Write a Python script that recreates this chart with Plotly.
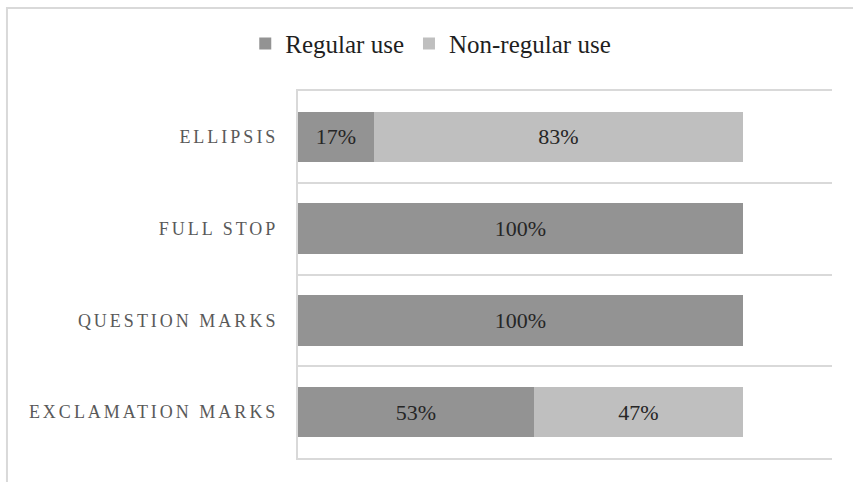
import plotly.graph_objects as go

categories = ["ELLIPSIS", "FULL STOP", "QUESTION MARKS", "EXCLAMATION MARKS"]
regular_use = [17, 100, 100, 53]
non_regular_use = [83, 0, 0, 47]
series_names = ["Regular use", "Non-regular use"]
x_tick_max = 120

dark = "#939393"
light = "#bfbfbf"
grid = "#d9d9d9"
serif = "Liberation Serif, Times New Roman, serif"

ypos = list(range(len(categories)))


def labels(vals):
    return [f"{v}%" if v else "" for v in vals]


fig = go.Figure()
for name, vals, col in [(series_names[0], regular_use, dark),
                        (series_names[1], non_regular_use, light)]:
    fig.add_trace(go.Bar(
        name=name, y=ypos, x=vals, orientation="h", width=0.55,
        marker=dict(color=col, line=dict(width=0)),
        text=labels(vals), textposition="inside", insidetextanchor="middle",
        textfont=dict(family=serif, size=22, color="#262626"),
        constraintext="none",
    ))

ticktext = [f'<span style="letter-spacing:3px">{c}</span>' for c in categories]

fig.update_layout(
    barmode="stack",
    width=853, height=482,
    margin=dict(l=298, r=21, t=91, b=24),
    paper_bgcolor="white", plot_bgcolor="white",
    font=dict(family=serif, color="#262626"),
    showlegend=True,
    legend=dict(orientation="h", xref="container", yref="container",
                x=0.505, xanchor="center", y=0.909, yanchor="middle",
                font=dict(family=serif, size=25, color="#1f1f1f"),
                traceorder="normal"),
    xaxis=dict(range=[0, x_tick_max], showgrid=False, zeroline=False,
               showticklabels=False, showline=True, mirror=True,
               linecolor=grid, linewidth=2, ticks="", fixedrange=True),
    yaxis=dict(range=[len(categories) - 0.5, -0.5], tickvals=ypos, ticktext=ticktext,
               showgrid=False, zeroline=False,
               showline=True, linecolor=grid, linewidth=2,
               ticks="", ticklabelstandoff=14,
               tickfont=dict(family=serif, size=18, color="#595959"),
               minor=dict(tickvals=[p - 0.5 for p in ypos] + [ypos[-1] + 0.5],
                          showgrid=True, gridcolor=grid, gridwidth=2, ticks=""),
               fixedrange=True),
    shapes=[dict(type="path", xref="paper", yref="paper",
                 path="M -0.545 -0.2 L -0.545 1.226 L 1.2 1.226",
                 line=dict(color=grid, width=2), layer="below")],
)

fig.write_html("out.html", config={"displayModeBar": False},
               post_script="document.body.style.margin='0';")
